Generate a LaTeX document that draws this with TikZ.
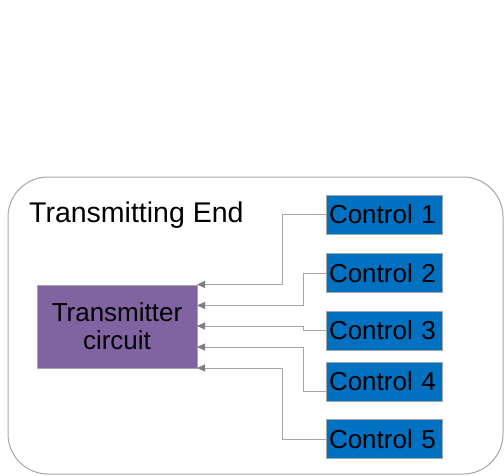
\documentclass[tikz,border=0pt]{standalone}
\usepackage{fontspec}
\setmainfont{Liberation Sans}
\usetikzlibrary{arrows.meta}
\definecolor{txpurple}{HTML}{8064A2}
\definecolor{ctblue}{HTML}{0070C0}
\definecolor{linegray}{HTML}{A6A6A6}
\definecolor{tipgray}{HTML}{7F7F7F}
\begin{document}
\begin{tikzpicture}[x=1pt,y=-1pt,
  ctrlbox/.style={fill=ctblue,draw=linegray,line width=0.8pt,minimum height=39pt,inner xsep=3pt,inner ysep=0pt,text width=110pt,align=left,font=\fontsize{26}{30}\selectfont},
  txbox/.style={fill=txpurple,draw=linegray,line width=0.8pt,minimum width=160pt,minimum height=83pt,inner sep=0pt,align=center,font=\fontsize{26}{28}\selectfont},
  wire/.style={draw=linegray,line width=1pt,-{Triangle[length=8pt,width=7pt,fill=tipgray,color=tipgray]}}
]
\useasboundingbox (0,0) rectangle (504,475);
\draw[linegray,line width=1pt,rounded corners=40pt] (8,177) rectangle (503,474);
\node[anchor=base west,inner sep=0pt,font=\fontsize{28.5}{32}\selectfont] (title) at (29,222) {Transmitting End};
\node[txbox] (tx) at (117,326.5) {Transmitter\\circuit};
\node[ctrlbox] (c1) at (384,214.5) {Control 1};
\node[ctrlbox] (c2) at (384,273) {Control 2};
\node[ctrlbox] (c3) at (384,330.5) {Control 3};
\node[ctrlbox] (c4) at (384,381.5) {Control 4};
\node[ctrlbox] (c5) at (384,439) {Control 5};
\coordinate (t1) at (197,284.5);
\coordinate (t2) at (197,305.5);
\coordinate (t3) at (197,326);
\coordinate (t4) at (197,347);
\coordinate (t5) at (197,368);
\draw[wire] (c1.west) -- ++(-43,0) |- (t1);
\draw[wire] (c2.west) -- ++(-22,0) |- (t2);
\draw[wire] (c3.west) -- ++(-22,0) |- (t3);
\draw[wire] ([yshift=-9.5pt]c4.west) -- ++(-22,0) |- (t4);
\draw[wire] (c5.west) -- ++(-43,0) |- (t5);
\end{tikzpicture}
\end{document}
